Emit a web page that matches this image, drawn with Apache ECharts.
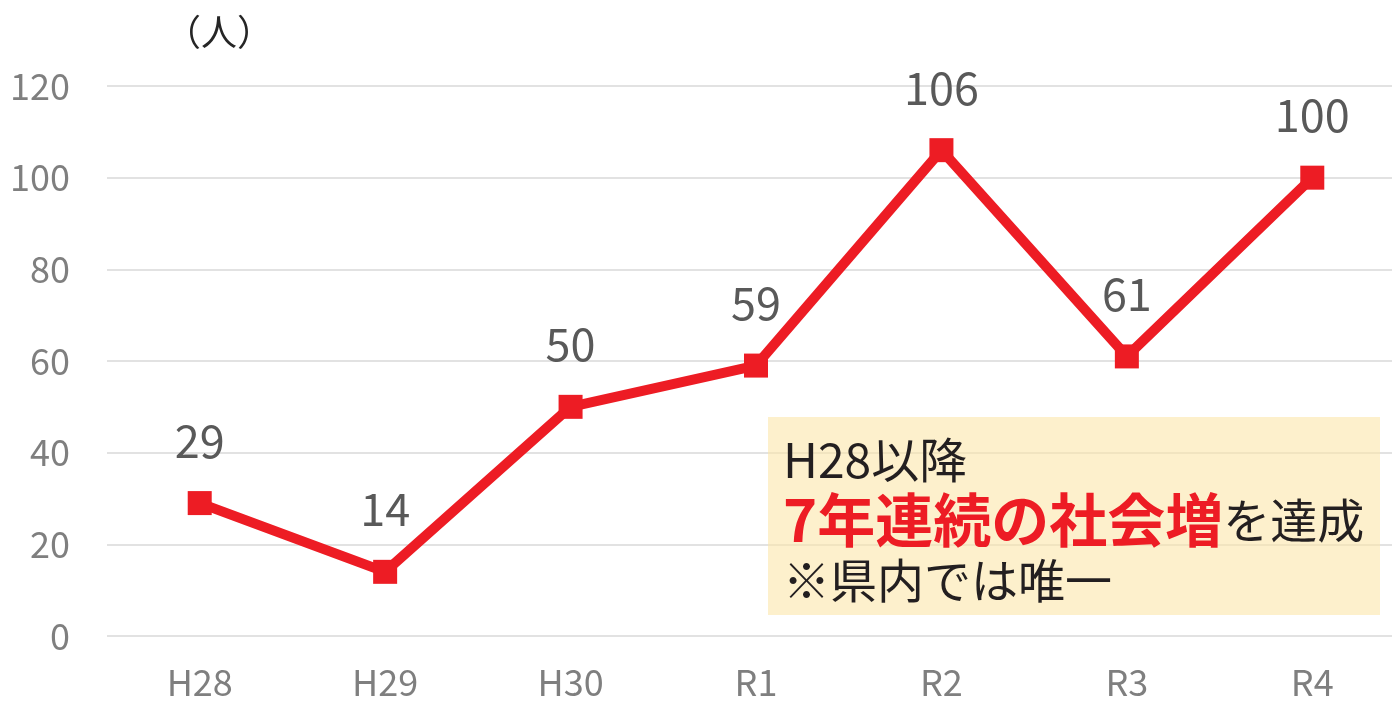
<!DOCTYPE html>
<html><head><meta charset="utf-8">
<script src="https://cdn.jsdelivr.net/npm/echarts@6/dist/echarts.min.js"></script>
<style>html,body{margin:0;padding:0;background:#fff;overflow:hidden}#c{width:100vw;height:100vh}</style>
</head><body><div id="c"></div>
<script>
const categories = ['H28','H29','H30','R1','R2','R3','R4'];
const values = [29, 14, 50, 59, 106, 61, 100];
const yTicks = [0, 20, 40, 60, 80, 100, 120];
const unitLabel = '（人）';
const noteLines = ['H28以降', '7年連続の社会増', 'を達成', '※県内では唯一'];

const FONT = '"Noto Sans CJK JP", "Noto Sans", sans-serif';
const chart = echarts.init(document.getElementById('c'));
chart.setOption({
  animation: false,
  backgroundColor: '#fff',
  grid: { left: 107, right: -13, top: 86, bottom: 65, containLabel: false, outerBoundsMode: 'none' },
  xAxis: {
    type: 'category', data: categories, boundaryGap: true,
    axisLine: { show: false }, axisTick: { show: false },
    axisLabel: { color: '#7f7f7f', fontSize: 36, fontFamily: FONT, margin: 28 }
  },
  yAxis: {
    type: 'value', min: yTicks[0], max: yTicks[yTicks.length-1], interval: 20,
    axisLine: { show: false }, axisTick: { show: false },
    splitLine: { lineStyle: { color: '#d9d9d9', width: 1.5 } },
    axisLabel: { color: '#7f7f7f', fontSize: 36, fontFamily: FONT, margin: 37 }
  },
  series: [{
    type: 'line', data: values,
    lineStyle: { color: '#ed1c24', width: 10 },
    itemStyle: { color: '#ed1c24' },
    symbol: 'rect', symbolSize: 24, showAllSymbol: true,
    label: { show: true, position: 'top', distance: 28, color: '#595959', fontSize: 45, fontFamily: FONT },
    z: 5
  }],
  graphic: [
    { type: 'text', left: 165, top: 14, style: { text: unitLabel, fontSize: 36, fill: '#262626', fontFamily: FONT } },
    { type: 'rect', shape: { x: 768, y: 417, width: 612, height: 198 },
      style: { fill: 'rgba(252,230,170,0.6)' }, z: 10 },
    { type: 'text', x: 783, y: 432, z: 11, style: {
        text: '{h|' + noteLines[0] + '}\n{r|' + noteLines[1] + '}{b|' + noteLines[2] + '}\n{a|' + noteLines[3] + '}',
        fontFamily: FONT,
        rich: {
          h: { fontSize: 48, fill: '#231f20', lineHeight: 56, fontFamily: FONT },
          a: { fontSize: 47, fill: '#231f20', lineHeight: 56, fontFamily: FONT },
          b: { fontSize: 47, fill: '#231f20', lineHeight: 64, fontFamily: FONT },
          r: { fontSize: 58, fill: '#ed1c24', fontWeight: 'bold', lineHeight: 64, fontFamily: FONT }
        }
      } }
  ]
});
</script></body></html>
